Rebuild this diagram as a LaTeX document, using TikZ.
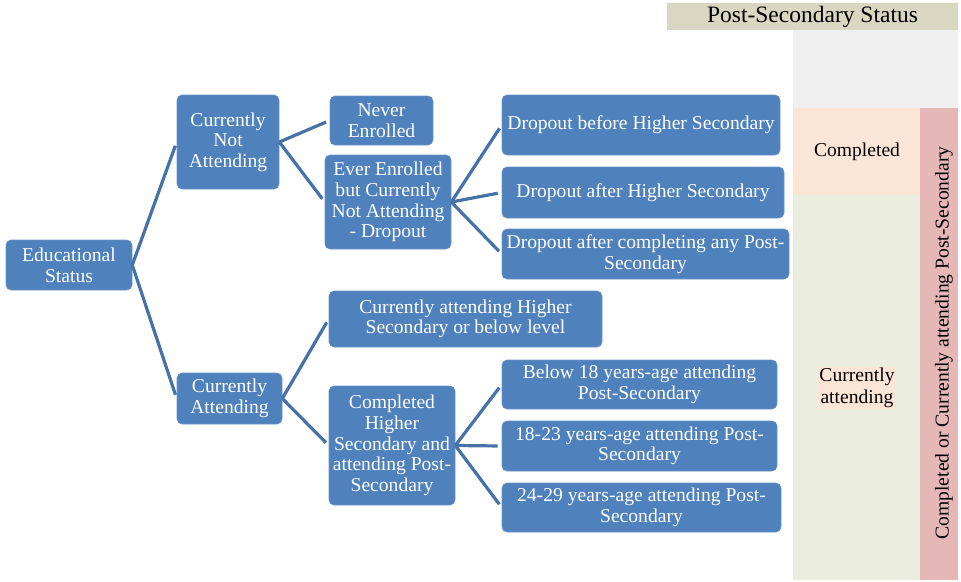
\documentclass[tikz,border=0pt]{standalone}
\usepackage{fontspec}
\setmainfont{Liberation Serif}
\definecolor{boxblue}{RGB}{79,129,189}
\definecolor{linkblue}{RGB}{70,114,168}
\definecolor{headtan}{RGB}{217,214,193}
\definecolor{panelgray}{RGB}{239,239,239}
\definecolor{panelpeach}{RGB}{251,229,214}
\definecolor{panelgreen}{RGB}{235,237,222}
\definecolor{panelred}{RGB}{229,184,183}

\begin{document}
\begin{tikzpicture}[x=1pt, y=-1pt,
  edubox/.style={rectangle, rounded corners=5pt, fill=boxblue, draw=boxblue!85!white,
    line width=0.6pt, text=white, align=center, inner sep=0pt,
    font=\fontsize{19.6}{20.6}\selectfont},
  paneltext/.style={text=black, align=center, inner sep=1pt,
    font=\fontsize{19.6}{22}\selectfont},
  link/.style={draw=linkblue, line width=3.2pt, shorten >=4pt}]
  \useasboundingbox (0,0) rectangle (961,581);

  % Status panels
  \fill[headtan] (667,3) rectangle (958,30);
  \fill[panelgray] (793,30) rectangle (958,108);
  \fill[panelpeach] (793,108) rectangle (920,195);
  \fill[panelgreen] (793,195) rectangle (920,580);
  \fill[panelred] (920,108) rectangle (958,580);
  \node[paneltext, font=\fontsize{23.5}{26}\selectfont] (head) at (812.5,16.5) {Post-Secondary Status};
  \node[paneltext] (done) at (857,152) {Completed};
  \node[paneltext, fill=panelpeach] (ongoing) at (857,388) {Currently\\attending};
  \node[paneltext, rotate=90] (either) at (944,343) {Completed or Currently attending Post-Secondary};

  % Tree boxes
  \node[edubox, minimum width=126, minimum height=50] (edu) at (69,265) {Educational\\Status};
  \node[edubox, minimum width=102, minimum height=94] (notatt) at (228,142) {Currently\\Not\\Attending};
  \node[edubox, minimum width=103, minimum height=49] (never) at (381.5,120.5) {Never\\Enrolled};
  \node[edubox, minimum width=126, minimum height=94] (ever) at (388,202) {Ever Enrolled\\but Currently\\Not Attending\\- Dropout};
  \node[edubox, minimum width=278, minimum height=60] (dbhs) at (641,125) {Dropout before Higher Secondary};
  \node[edubox, minimum width=282, minimum height=51] (dahs) at (643,192.5) {Dropout after Higher Secondary};
  \node[edubox, minimum width=287, minimum height=50] (dacp) at (645.5,254) {Dropout after completing any Post-\\Secondary};
  \node[edubox, minimum width=105, minimum height=51] (att) at (229.5,398.5) {Currently\\Attending};
  \node[edubox, minimum width=273, minimum height=56] (hsbelow) at (465.5,319) {Currently attending Higher\\Secondary or below level};
  \node[edubox, minimum width=126, minimum height=119] (comphs) at (392,445.5) {Completed\\Higher\\Secondary and\\attending Post-\\Secondary};
  \node[edubox, minimum width=275, minimum height=49] (below18) at (639.5,384.5) {Below 18 years-age attending\\Post-Secondary};
  \node[edubox, minimum width=275, minimum height=50] (age1823) at (639.5,446) {18-23 years-age attending Post-\\Secondary};
  \node[edubox, minimum width=279, minimum height=49] (age2429) at (641.5,507.5) {24-29 years-age attending Post-\\Secondary};

  % Connectors
  \draw[link] (edu.east) -- (notatt.west);
  \draw[link] (edu.east) -- (att.west);
  \draw[link] (notatt.east) -- (never.west);
  \draw[link] (notatt.east) -- (ever.west);
  \draw[link] (ever.east) -- (dbhs.west);
  \draw[link] (ever.east) -- (dahs.west);
  \draw[link] (ever.east) -- (dacp.west);
  \draw[link] (att.east) -- (hsbelow.west);
  \draw[link] (att.east) -- (comphs.west);
  \draw[link] (comphs.east) -- (below18.west);
  \draw[link] (comphs.east) -- (age1823.west);
  \draw[link] (comphs.east) -- (age2429.west);
\end{tikzpicture}
\end{document}
